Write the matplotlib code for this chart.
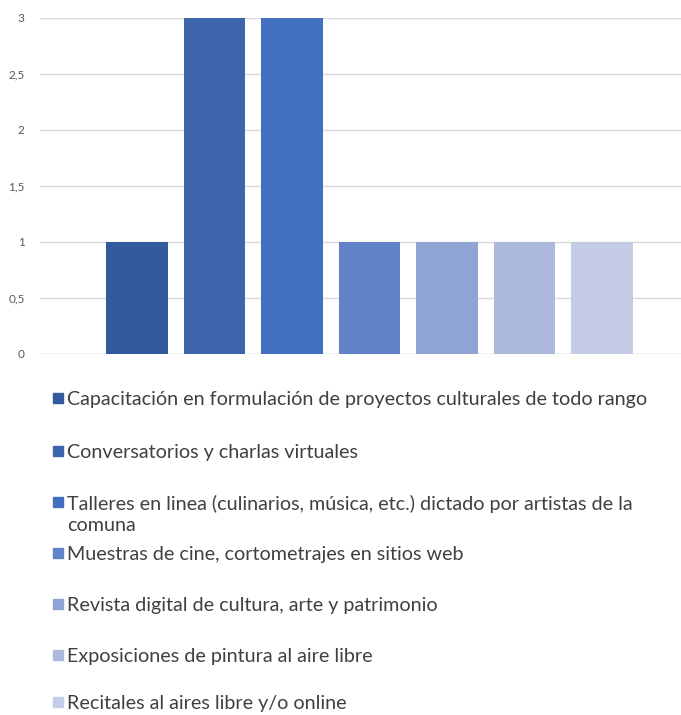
import matplotlib
matplotlib.use("Agg")
import matplotlib.pyplot as plt
from matplotlib.patches import Rectangle
import numpy as np

# data
categorias = [
    "Capacitación en formulación de proyectos culturales de todo rango",
    "Conversatorios y charlas virtuales",
    "Talleres en linea (culinarios, música, etc.) dictado por artistas de la\ncomuna",
    "Muestras de cine, cortometrajes en sitios web",
    "Revista digital de cultura, arte y patrimonio",
    "Exposiciones de pintura al aire libre",
    "Recitales al aires libre y/o online",
]
valores = [1, 3, 3, 1, 1, 1, 1]
colores = ["#335a9c", "#3c65ac", "#4270be", "#6383c8", "#8fa4d4", "#acb9dd", "#c5cde6"]
yticks = [0, 0.5, 1, 1.5, 2, 2.5, 3]
ytick_labels = ["0", "0,5", "1", "1,5", "2", "2,5", "3"]

plt.rcParams['font.family'] = ['Lato', 'DejaVu Sans']

W, H = 681, 715
fig = plt.figure(figsize=(W / 100, H / 100), dpi=100)
ax = fig.add_axes([40 / W, 1 - 354 / H, 1 - 40 / W, (354 - 18) / H])

x = np.arange(len(valores))
ax.bar(x, valores, width=0.79, color=colores, zorder=3)

ax.set_ylim(0, 3)
ax.set_xlim(-1.252, 7.02)
ax.set_yticks(yticks)
ax.set_yticklabels(ytick_labels, fontsize=8.5, color="#595959")
ax.set_xticks([])
ax.tick_params(axis="y", length=0, pad=11)
ax.grid(axis="y", color="#d9d9d9", linewidth=1, zorder=0)
for s in ax.spines.values():
    s.set_visible(False)
ax.axhline(0, color="#d9d9d9", linewidth=1, zorder=1)

# legend drawn by hand so every entry keeps the same row pitch
row_y = [398, 451, 502, 553, 604, 655, 702]
for lab, col, yy in zip(categorias, colores, row_y):
    fig.patches.append(Rectangle((53 / W, 1 - (yy + 5) / H), 10 / W, 10 / H,
                                 transform=fig.transFigure, color=col))
    # first line centred on the row
    fig.text(67 / W, 1 - (yy - 7) / H, lab, fontsize=14.2, color="#404040",
             va="top", linespacing=1.27)

fig.savefig("out.png", dpi=100)
